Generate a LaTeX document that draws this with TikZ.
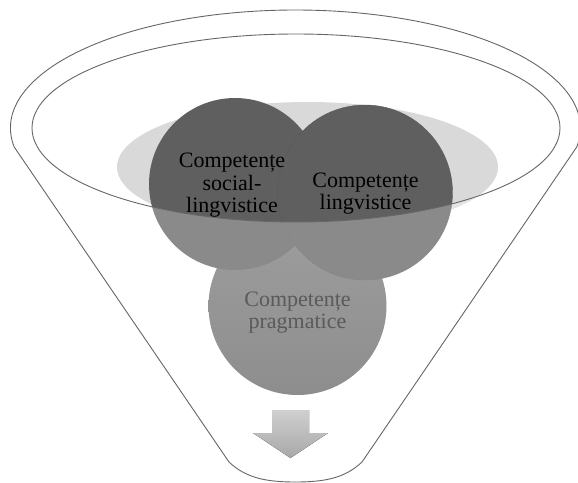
\documentclass[tikz,border=0pt]{standalone}
\usepackage{fontspec}
\setmainfont{Liberation Serif}
\definecolor{linegray}{HTML}{666666}
\definecolor{lightell}{HTML}{D9D9D9}
\definecolor{darkball}{HTML}{5F5F5F}
\definecolor{pragtop}{HTML}{7A7A7A}
\definecolor{pragbot}{HTML}{646464}
\definecolor{praggray}{HTML}{5A5A5A}
\definecolor{arrowtop}{HTML}{CFCFCF}
\definecolor{arrowbot}{HTML}{A8A8A8}
\begin{document}
\begin{tikzpicture}[x=1pt,y=-1pt,
  outline/.style={draw=linegray, line width=0.9pt},
  lbl/.style={align=center, inner sep=0pt, font=\fontsize{22}{22.5}\selectfont},
  ball/.style={circle, inner sep=0pt, minimum size=#1}]
\useasboundingbox (0,0) rectangle (578,482);
\coordinate (fl) at (14.2,147);
\coordinate (bl) at (229,462);
\coordinate (bot) at (295.5,482);
\coordinate (br) at (362,462);
% light ellipse behind the balls
\fill[lightell] (307.5,167) ellipse [x radius=190.5pt, y radius=65pt];
% balls
\node[ball=178pt, top color=pragtop, bottom color=pragbot] (prag) at (297.5,306) {};
\node[ball=172pt, fill=darkball] (soc) at (235,184) {};
\node[ball=175pt, fill=darkball, draw=black!65, line width=0.4pt] (ling) at (365,192.5) {};
% translucent front of the funnel
\fill[white, opacity=0.27, even odd rule] (0,0) rectangle (578,482)
  (296,128) ellipse [x radius=264pt, y radius=94pt];
% rim and funnel outline
\draw[outline] (296,128) ellipse [x radius=264pt, y radius=94pt];
\draw[outline] (fl) arc[start angle=189.27, end angle=-9.27, x radius=285pt, y radius=118pt]
  -- (br) .. controls (345,478) and (325,482) .. (bot)
  .. controls (266,482) and (246,478) .. (bl) -- cycle;
% arrow
\fill[top color=arrowtop, bottom color=arrowbot] (272,410) -- (309,410) -- (309,433)
  -- (328,433) -- (290.5,458) -- (253,433) -- (272,433) -- cycle;
% labels
\node[lbl] (tsoc) at (232,185.5) {Competențe\\social-\\lingvistice};
\node[lbl] (tling) at (365.5,193.5) {Competențe\\lingvistice};
\node[lbl, text=praggray] (tprag) at (297.5,312.5) {Competențe\\pragmatice};
\end{tikzpicture}
\end{document}
